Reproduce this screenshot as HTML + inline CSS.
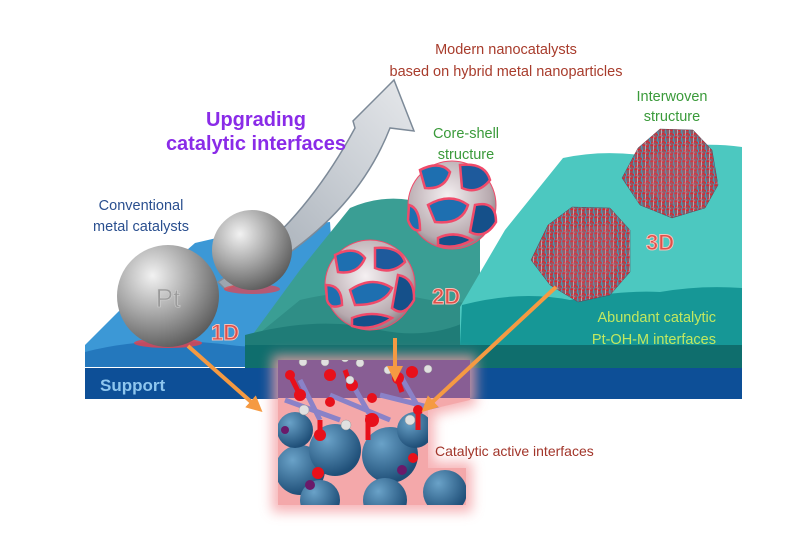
<!DOCTYPE html>
<html><head><meta charset="utf-8"><style>
html,body{margin:0;padding:0;background:#fff;}
svg{display:block;font-family:"Liberation Sans",sans-serif;}
</style></head><body>
<svg width="795" height="534" viewBox="0 0 795 534" xmlns="http://www.w3.org/2000/svg">
<defs>
<radialGradient id="gs" cx="0.35" cy="0.3" r="0.75"><stop offset="0" stop-color="#f2f2f2"/><stop offset="0.5" stop-color="#a8a8a8"/><stop offset="1" stop-color="#5a5a5a"/></radialGradient>
<radialGradient id="cs" cx="0.45" cy="0.4" r="0.7"><stop offset="0" stop-color="#f5f0f2"/><stop offset="0.7" stop-color="#b7a9ae"/><stop offset="1" stop-color="#6b5f66"/></radialGradient>
<radialGradient id="bb" cx="0.35" cy="0.3" r="0.7"><stop offset="0" stop-color="#6aa2c8"/><stop offset="1" stop-color="#1f4f78"/></radialGradient>
<linearGradient id="ar" x1="0" y1="1" x2="1" y2="0"><stop offset="0" stop-color="#9aa3ad"/><stop offset="0.6" stop-color="#c9ced4"/><stop offset="1" stop-color="#e6e8eb"/></linearGradient>
<pattern id="weave" width="8" height="8" patternUnits="userSpaceOnUse"><rect width="8" height="8" fill="#8a5a66"/><path d="M0 2 Q4 0 8 3 M0 6 Q3 8 8 5" stroke="#e4202a" stroke-width="1.3" fill="none"/><path d="M2 0 Q1 4 3 8" stroke="#3aa6c8" stroke-width="1" fill="none"/><path d="M6 0 L5 8" stroke="#cfd8de" stroke-width="0.6"/></pattern>
<filter id="blur4"><feGaussianBlur stdDeviation="6"/></filter>
<clipPath id="box"><polygon points="278,360 470,360 470,400 428,410 428,468 466,468 466,505 278,505"/></clipPath>
<marker id="oa" markerWidth="4" markerHeight="4" refX="2.5" refY="2" orient="auto"><path d="M0,0 L4,2 L0,4 Z" fill="#f59a42"/></marker>
</defs>

<polygon points="85,345 130,300 195,243 260,228 330,222 340,367 85,367" fill="#3c98d6"/>
<path d="M85,352 Q150,335 230,345 Q270,350 300,340 L300,367 L85,367 Z" fill="#2478bd"/>
<path d="M245,345 L300,270 L350,208 Q380,195 410,200 Q450,195 480,210 L480,367 L245,367 Z" fill="#3a9e94"/>
<path d="M300,300 Q360,285 430,300 Q470,305 490,300 L490,367 L245,367 L245,345 Z" fill="#2f8e86"/>
<path d="M245,335 Q320,315 380,330 Q430,340 470,320 L470,367 L245,367 Z" fill="#1f7c77"/>
<path d="M460,307 L505,230 L563,158 Q600,150 640,155 Q690,140 742,147 L742,345 L460,345 Z" fill="#4cc8c0"/>
<path d="M462,305 Q520,290 570,300 Q620,290 660,292 Q700,285 742,288 L742,345 L460,345 Z" fill="#169796"/>
<path d="M245,345 L742,345 L742,370 L245,370 Z" fill="#0f6e6d"/>
<rect x="85" y="368" width="657" height="31" fill="#0d4f97"/>
<text x="100" y="391" font-size="17" font-weight="bold" fill="#8ec6ee">Support</text>

<path d="M218,282 Q300,230 355,128 L353,121 L394,80 L414,131 L390,128 Q350,230 226,290 Z" fill="url(#ar)" stroke="#7d8a98" stroke-width="1.5"/>

<ellipse cx="252" cy="289" rx="28" ry="5" fill="#e8404a" opacity="0.7"/>
<circle cx="252" cy="250" r="40" fill="url(#gs)"/>
<ellipse cx="168" cy="343" rx="34" ry="5" fill="#e8404a" opacity="0.8"/>
<circle cx="168" cy="296" r="51" fill="url(#gs)"/>
<text x="168" y="307" font-size="26" fill="#9a9a9a" text-anchor="middle" stroke="#cfcfcf" stroke-width="0.6">Pt</text>

<g stroke="#f04a6a" stroke-width="2.5">
<circle cx="452" cy="205" r="44" fill="url(#cs)" stroke-width="1"/>
<path d="M420,170 Q440,160 450,172 Q445,190 425,188 Z" fill="#1e6fb0"/>
<path d="M460,165 Q485,162 490,180 Q478,195 462,188 Z" fill="#1e5a9c"/>
<path d="M428,205 Q450,192 468,205 Q462,225 435,222 Z" fill="#1e6fb0"/>
<path d="M475,205 Q496,200 496,222 Q485,240 470,232 Z" fill="#15508a"/>
<path d="M409,205 Q420,208 420,230 Q412,232 408,220 Z" fill="#1e6fb0"/>
<path d="M438,238 Q455,230 472,240 Q455,250 438,245 Z" fill="#15508a"/>
</g>
<g stroke="#f04a6a" stroke-width="2.5">
<circle cx="370" cy="285" r="45" fill="url(#cs)" stroke-width="1"/>
<path d="M335,255 Q355,245 365,258 Q358,275 338,272 Z" fill="#1e6fb0"/>
<path d="M375,248 Q400,246 405,262 Q392,275 375,268 Z" fill="#1e5a9c"/>
<path d="M350,290 Q372,275 392,288 Q385,305 355,305 Z" fill="#1e6fb0"/>
<path d="M398,275 Q415,278 414,300 Q404,318 392,308 Z" fill="#15508a"/>
<path d="M326,285 Q342,285 342,305 Q330,310 327,300 Z" fill="#1e6fb0"/>
<path d="M352,318 Q372,310 392,318 Q372,332 352,326 Z" fill="#15508a"/>
</g>

<polygon points="638,148 660,129 693,130 712,150 718,185 705,208 672,218 640,205 622,178" fill="url(#weave)" stroke="#5a4a5a" stroke-width="0.5"/>
<polygon points="650,155 695,145 705,180 675,205 640,190" fill="#c86070" opacity="0.25"/>
<polygon points="548,225 572,207 610,208 630,230 630,272 610,295 578,302 550,285 531,260" fill="url(#weave)" stroke="#5a4a5a" stroke-width="0.5"/>
<polygon points="560,230 610,225 620,265 590,290 550,270" fill="#c86070" opacity="0.25"/>

<g font-size="22" font-weight="bold" fill="#e0504a" stroke="#f6c0b8" stroke-width="1">
<text x="211" y="340">1D</text>
<text x="432" y="304">2D</text>
<text x="646" y="250">3D</text>
</g>

<g filter="url(#blur4)" opacity="0.8"><polygon points="272,355 476,355 476,405 434,415 434,462 472,462 472,512 272,512" fill="#f4a2a6"/></g>
<g clip-path="url(#box)">
<rect x="278" y="360" width="192" height="145" fill="#f4a8aa"/>
<rect x="278" y="360" width="192" height="38" fill="#5a3f8a" opacity="0.7"/>
<circle cx="300" cy="470" r="25" fill="url(#bb)"/>
<circle cx="335" cy="450" r="26" fill="url(#bb)"/>
<circle cx="390" cy="455" r="28" fill="url(#bb)"/>
<circle cx="415" cy="430" r="18" fill="url(#bb)"/>
<circle cx="445" cy="492" r="22" fill="url(#bb)"/>
<circle cx="320" cy="500" r="20" fill="url(#bb)"/>
<circle cx="385" cy="500" r="22" fill="url(#bb)"/>
<circle cx="295" cy="430" r="18" fill="url(#bb)"/>
<g stroke="#8a82c8" stroke-width="5">
<line x1="285" y1="400" x2="340" y2="420"/><line x1="330" y1="395" x2="390" y2="420"/><line x1="380" y1="395" x2="440" y2="410"/>
<line x1="300" y1="380" x2="320" y2="420"/><line x1="350" y1="380" x2="370" y2="415"/><line x1="400" y1="375" x2="420" y2="410"/>
</g>
<g stroke="#e8101a" stroke-width="5">
<line x1="320" y1="420" x2="320" y2="440"/><line x1="368" y1="415" x2="368" y2="440"/><line x1="418" y1="410" x2="418" y2="430"/>
<line x1="290" y1="375" x2="300" y2="395"/><line x1="345" y1="370" x2="352" y2="390"/><line x1="395" y1="372" x2="402" y2="392"/>
</g>
<g fill="#e8101a">
<circle cx="320" cy="435" r="6"/><circle cx="372" cy="420" r="7"/><circle cx="418" cy="410" r="5"/>
<circle cx="300" cy="395" r="6"/><circle cx="330" cy="402" r="5"/><circle cx="352" cy="385" r="6"/><circle cx="372" cy="398" r="5"/>
<circle cx="398" cy="378" r="6"/><circle cx="412" cy="372" r="6"/><circle cx="290" cy="375" r="5"/><circle cx="330" cy="375" r="6"/>
<circle cx="318" cy="473" r="6"/><circle cx="413" cy="458" r="5"/>
</g>
<g fill="#6a1a6a"><circle cx="310" cy="485" r="5"/><circle cx="402" cy="470" r="5"/><circle cx="285" cy="430" r="4"/></g>
<g fill="#e0e0e0" stroke="#999" stroke-width="0.5">
<circle cx="304" cy="410" r="5"/><circle cx="346" cy="425" r="5"/><circle cx="410" cy="420" r="5"/>
<circle cx="303" cy="362" r="4"/><circle cx="325" cy="362" r="4"/><circle cx="345" cy="358" r="4"/><circle cx="360" cy="363" r="4"/>
<circle cx="388" cy="370" r="4"/><circle cx="428" cy="369" r="4"/><circle cx="377" cy="355" r="4"/><circle cx="350" cy="380" r="4"/>
</g>
</g>
<text x="435" y="456" font-size="14" fill="#a2352a">Catalytic active interfaces</text>

<g stroke="#f59a42" stroke-width="4" fill="none" marker-end="url(#oa)">
<line x1="188" y1="346" x2="258" y2="408"/>
<line x1="395" y1="338" x2="395" y2="376"/>
<line x1="556" y1="287" x2="426" y2="408"/>
</g>

<g font-size="14.5" fill="#a83c2c" text-anchor="middle">
<text x="506" y="54">Modern nanocatalysts</text>
<text x="506" y="76">based on hybrid metal nanoparticles</text>
</g>
<g font-size="20" font-weight="bold" fill="#8a2be8" text-anchor="middle">
<text x="256" y="126">Upgrading</text>
<text x="256" y="150">catalytic interfaces</text>
</g>
<g font-size="14.5" fill="#3a9a3a" text-anchor="middle">
<text x="466" y="138">Core-shell</text>
<text x="466" y="159">structure</text>
<text x="672" y="101">Interwoven</text>
<text x="672" y="121">structure</text>
</g>
<g font-size="14.5" fill="#2a4f8f" text-anchor="middle">
<text x="141" y="210">Conventional</text>
<text x="141" y="231">metal catalysts</text>
</g>
<g font-size="14.5" fill="#c2e860" text-anchor="end">
<text x="716" y="322">Abundant catalytic</text>
<text x="716" y="344">Pt-OH-M interfaces</text>
</g>
</svg>
</body></html>
